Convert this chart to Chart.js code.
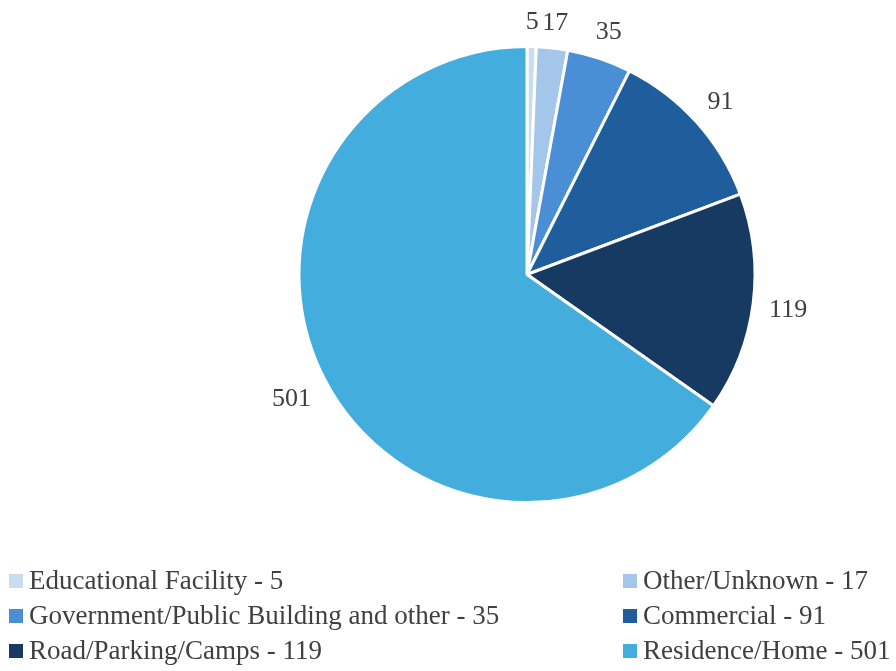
<!DOCTYPE html>
<html>
<head>
<meta charset="utf-8">
<script src="https://cdn.jsdelivr.net/npm/chart.js@4"></script>
<style>
  body { margin: 0; background: #fff; }
  #wrap { position: relative; width: 896px; height: 671px; }
  #legend {
    position: absolute; left: 0; top: 563px; width: 896px;
    font-family: "Liberation Serif", serif; font-size: 27px; color: #404040;
  }
  .item { position: absolute; white-space: nowrap; line-height: 35px; }
  .box { display: inline-block; width: 14px; height: 14px; margin-right: 6px; vertical-align: 1px; }
</style>
</head>
<body>
<div id="wrap">
  <canvas id="pieChart" width="896" height="671"></canvas>
  <div id="legend"></div>
</div>
<script>
// data
const categories = ['Educational Facility', 'Other/Unknown', 'Government/Public Building and other', 'Commercial', 'Road/Parking/Camps', 'Residence/Home'];
const counts = [5, 17, 35, 91, 119, 501];
const colors = ['#c9ddf0', '#a3c6ea', '#4a8ed6', '#1f5d9c', '#173a63', '#43aede'];

// value labels outside the slices
const outsideLabels = {
    id: 'outsideLabels',
    afterDatasetsDraw(chart) {
        const ctx = chart.ctx;
        const meta = chart.getDatasetMeta(0);
        ctx.save();
        ctx.font = '26px "Liberation Serif", serif';
        ctx.fillStyle = '#404040';
        ctx.textAlign = 'center';
        ctx.textBaseline = 'middle';
        meta.data.forEach((arc, i) => {
            const mid = (arc.startAngle + arc.endAngle) / 2;
            const dx = Math.cos(mid), dy = Math.sin(mid);
            const txt = String(counts[i]);
            const hw = ctx.measureText(txt).width / 2;
            const d = arc.outerRadius + 15 + hw * Math.abs(dx) + 11 * Math.abs(dy);
            ctx.fillText(txt, arc.x + dx * d, arc.y + dy * d + 2);
        });
        ctx.restore();
    }
};

const pieCtx = document.getElementById('pieChart').getContext('2d');
const pieChart = new Chart(pieCtx, {
    type: 'pie',
    data: {
        labels: categories,
        datasets: [{
            data: counts,
            backgroundColor: colors,
            borderColor: '#ffffff',
            borderWidth: 3
        }]
    },
    options: {
        responsive: false,
        animation: false,
        layout: { padding: { top: 45, bottom: 167, left: 297, right: 139 } },
        plugins: {
            legend: { display: false },
            tooltip: { enabled: false }
        }
    },
    plugins: [outsideLabels]
});

// legend in two columns, filled row by row
const legendEl = document.getElementById('legend');
categories.forEach((name, i) => {
    const item = document.createElement('div');
    item.className = 'item';
    item.style.left = (i % 2 === 0 ? 9 : 623) + 'px';
    item.style.top = (Math.floor(i / 2) * 35) + 'px';
    item.innerHTML = '<span class="box" style="background:' + colors[i] + '"></span>' + name + ' - ' + counts[i];
    legendEl.appendChild(item);
});
</script>
</body>
</html>
